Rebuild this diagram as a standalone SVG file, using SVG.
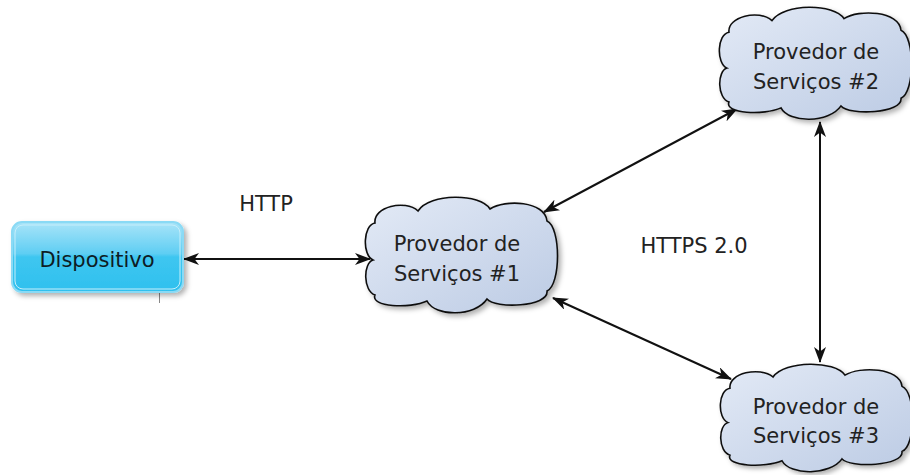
<svg xmlns="http://www.w3.org/2000/svg" width="910" height="475" viewBox="0 0 910 475">
  <defs>
    <style>
      .lbl { font-family: "DejaVu Sans", "Liberation Sans", sans-serif; font-size: 21px; fill: #222; text-anchor: middle; }
      .cloud { fill: url(#cloudGrad); stroke: #111; stroke-width: 1.6; filter: url(#shadow); }
      .conn { stroke: #111; stroke-width: 2; fill: none; marker-start: url(#arrow); marker-end: url(#arrow); }
    </style>
    <linearGradient id="cloudGrad" x1="0" y1="0" x2="1" y2="1">
      <stop offset="0" stop-color="#e3eaf6"/>
      <stop offset="1" stop-color="#bccbe4"/>
    </linearGradient>
    <linearGradient id="devGrad" x1="0" y1="0" x2="0" y2="1">
      <stop offset="0" stop-color="#a9e4f8"/>
      <stop offset="0.45" stop-color="#5fcef3"/>
      <stop offset="0.5" stop-color="#3ec6f0"/>
      <stop offset="1" stop-color="#2fc0ee"/>
    </linearGradient>
    <filter id="shadow" x="-20%" y="-20%" width="150%" height="150%">
      <feDropShadow dx="3" dy="3" stdDeviation="2.5" flood-color="#000" flood-opacity="0.3"/>
    </filter>
    <marker id="arrow" viewBox="0 0 16 12" markerWidth="16" markerHeight="12" refX="15" refY="6" orient="auto-start-reverse" markerUnits="userSpaceOnUse">
      <path d="M0,0 L16,6 L0,12 L4.5,6 Z" fill="#111"/>
    </marker>
    <path id="cloudShape" d="M 8,63 C -3,58 -2,28 10,26 C 8,10 40,2 53,14 C 65,-4 115,-4 125,12 C 140,2 180,4 182,24 C 196,30 196,88 182,94 C 184,110 130,112 122,102 C 110,120 70,120 62,104 C 45,112 5,110 10,98 C -2,94 -2,66 8,63 Z"/>
  </defs>

  <g id="connectors">
    <line class="conn" x1="184" y1="259" x2="370" y2="259"/>
    <line class="conn" x1="544" y1="212" x2="737" y2="109"/>
    <line class="conn" x1="553" y1="298" x2="731" y2="379"/>
    <line class="conn" x1="820" y1="122" x2="820" y2="362"/>
    <line x1="159.5" y1="293" x2="159.5" y2="303" stroke="#888" stroke-width="1"/>
  </g>

  <g id="label-http">
    <text class="lbl" x="266" y="211">HTTP</text>
  </g>
  <g id="label-https">
    <text class="lbl" x="694" y="253">HTTPS 2.0</text>
  </g>

  <g id="dispositivo">
    <rect x="12" y="222" width="171" height="70" rx="10" ry="10" fill="url(#devGrad)" stroke="#8adaf5" stroke-width="2" filter="url(#shadow)"/>
    <rect x="15" y="225" width="165" height="64" rx="8" ry="8" fill="none" stroke="#c6eefb" stroke-width="1"/>
    <text class="lbl" x="97" y="267" style="fill:#0e1c24">Dispositivo</text>
  </g>

  <g id="provedor1">
    <use href="#cloudShape" class="cloud" transform="translate(365,197)"/>
    <text class="lbl" x="457" y="251">Provedor de</text>
    <text class="lbl" x="457" y="281">Serviços #1</text>
  </g>

  <g id="provedor2">
    <use href="#cloudShape" class="cloud" transform="translate(719,7) scale(1,0.97)"/>
    <text class="lbl" x="816" y="59">Provedor de</text>
    <text class="lbl" x="816" y="89">Serviços #2</text>
  </g>

  <g id="provedor3">
    <use href="#cloudShape" class="cloud" transform="translate(720,364) scale(1,0.93)"/>
    <text class="lbl" x="816" y="414">Provedor de</text>
    <text class="lbl" x="816" y="443">Serviços #3</text>
  </g>
</svg>
